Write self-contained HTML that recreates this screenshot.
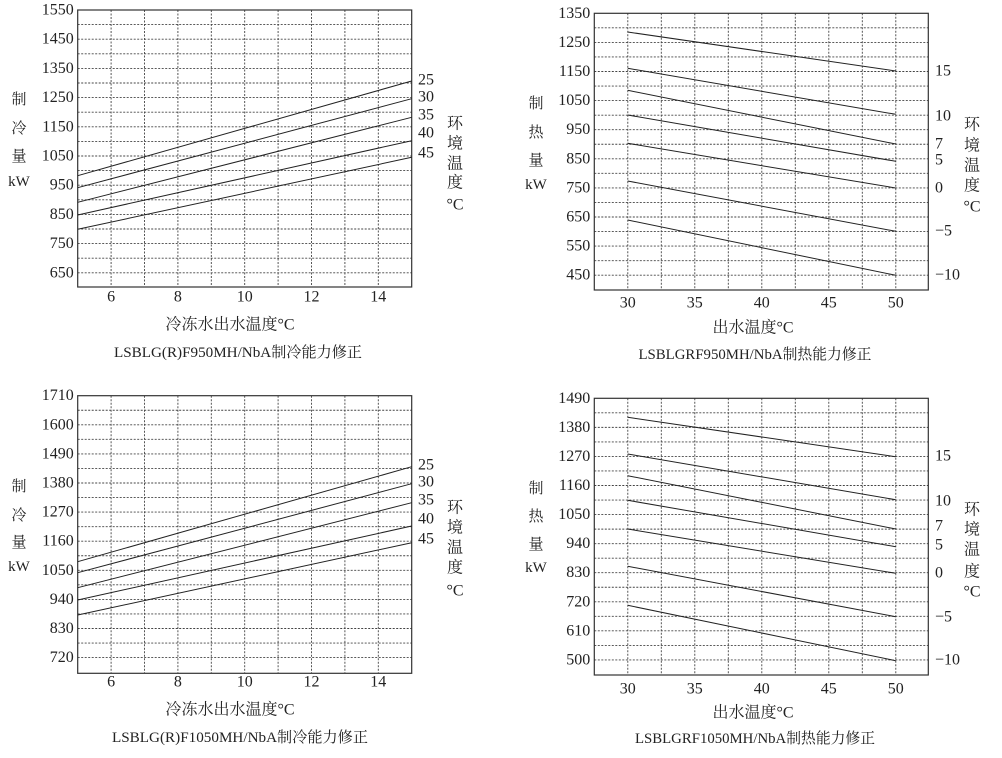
<!DOCTYPE html>
<html><head><meta charset="utf-8"><style>
html,body{margin:0;padding:0;background:#fff}
svg{display:block}
text{font-family:"Liberation Serif","Noto Serif CJK SC",serif;fill:#222}
</style></head><body>
<svg id="s" width="1002" height="758" viewBox="0 0 1002 758" xmlns="http://www.w3.org/2000/svg"></svg>
<script>
var s=document.getElementById('s'),h='';
function L(x1,y1,x2,y2,st){h+='<line x1="'+x1+'" y1="'+y1+'" x2="'+x2+'" y2="'+y2+'" '+st+'/>';}
function T(x,y,t,sz,anc){h+='<text x="'+x+'" y="'+y+'" font-size="'+(sz||15)+'" text-anchor="'+(anc||'middle')+'" dominant-baseline="central">'+t+'</text>';}
var dash='stroke="#444" stroke-width="0.9" stroke-dasharray="2,1.5"';
function chart(c){
  for(var i=0;;i++){var y=c.top+i*c.dy/2; if(y>c.bot-2)break; if(i>0)L(c.l,y,c.r,y,dash);}
  for(var x=c.l+c.dx;x<c.r-2;x+=c.dx)L(x,c.top,x,c.bot,dash);
  h+='<rect x="'+c.l+'" y="'+c.top+'" width="'+(c.r-c.l)+'" height="'+(c.bot-c.top)+'" fill="none" stroke="#333" stroke-width="1.2"/>';
  c.yl.forEach(function(t,i){T(c.l-4,c.top+i*c.dy,t,16,'end');});
  c.xl.forEach(function(p){T(p[0],c.xly,p[1],16);});
  c.lines.forEach(function(p){L(c.lx1,p[0],c.lx2,p[1],'stroke="#222" stroke-width="1"');});
  c.rl.forEach(function(p){T(c.rlx,p[1],p[0],16,'start');});
  c.left.forEach(function(p){T(c.lax,p[1],p[0],15);});
  c.right.forEach(function(p){T(c.rax,p[1],p[0],16);});
  T(c.xt[0],c.xt[1],c.xt[2],16);
  h+='<text x="'+c.cap[0]+'" y="'+c.cap[1]+'" font-size="15" text-anchor="middle" dominant-baseline="central" textLength="'+c.cap[3]+'" lengthAdjust="spacingAndGlyphs">'+c.cap[2]+'</text>';
}
var dxC=33.4, dxH=33.5;
function xlC(l){return [[6,'6'],[8,'8'],[10,'10'],[12,'12'],[14,'14']].map(function(a){return [l+(a[0]-5)*dxC,a[1]];});}
function xlH(){return [30,35,40,45,50].map(function(v){return [627.7+(v-30)*13.4,''+v];});}
chart({l:77.7,r:411.7,top:10,bot:287,dy:29.2,dx:dxC,
 yl:['1550','1450','1350','1250','1150','1050','950','850','750','650'],
 xl:xlC(77.7),xly:297,lx1:77.7,lx2:411.7,
 lines:[[175.7,81],[187.7,98.7],[202.3,117.3],[215,140.7],[229.3,157.3]],
 rl:[['25',80],['30',97],['35',115],['40',133],['45',153]],rlx:418,
 left:[['制',100],['冷',129],['量',157],['kW',182]],lax:19,
 right:[['环',124],['境',144],['温',164],['度',183],['°C',205]],rax:455,
 xt:[230,325,'冷冻水出水温度°C'],cap:[238,353,'LSBLG(R)F950MH/NbA制冷能力修正',248]});
chart({l:594.3,r:928.3,top:13.3,bot:290,dy:29.1,dx:dxH,
 yl:['1350','1250','1150','1050','950','850','750','650','550','450'],
 xl:xlH(),xly:303,lx1:627.7,lx2:895.7,
 lines:[[32,71],[68.3,114.3],[90.3,144],[115,161.3],[143.3,188],[181,231.3],[220,275.3]],
 rl:[['15',71],['10',116],['7',144],['5',160],['0',188],['−5',231],['−10',275]],rlx:935,
 left:[['制',104],['热',133],['量',161],['kW',185]],lax:536,
 right:[['环',125],['境',146],['温',166],['度',186],['°C',207]],rax:972,
 xt:[753,328,'出水温度°C'],cap:[755,355,'LSBLGRF950MH/NbA制热能力修正',233]});
chart({l:77.7,r:411.7,top:395.7,bot:673.3,dy:29.1,dx:dxC,
 yl:['1710','1600','1490','1380','1270','1160','1050','940','830','720'],
 xl:xlC(77.7),xly:682,lx1:77.7,lx2:411.7,
 lines:[[561.7,466.7],[572.7,483.7],[587.7,502.7],[600,526],[615,542.7]],
 rl:[['25',465],['30',482],['35',500],['40',519],['45',539]],rlx:418,
 left:[['制',487],['冷',516],['量',543],['kW',567]],lax:19,
 right:[['环',508],['境',528],['温',548],['度',568],['°C',591]],rax:455,
 xt:[230,710,'冷冻水出水温度°C'],cap:[240,738,'LSBLG(R)F1050MH/NbA制冷能力修正',256]});
chart({l:594.3,r:928.3,top:398.3,bot:675,dy:29.07,dx:dxH,
 yl:['1490','1380','1270','1160','1050','940','830','720','610','500'],
 xl:xlH(),xly:689,lx1:627.7,lx2:895.7,
 lines:[[417.3,456.7],[454,499.7],[475.7,529],[500.3,546.7],[529,573.3],[566.3,616.7],[605.3,660.7]],
 rl:[['15',456],['10',501],['7',526],['5',545],['0',573],['−5',617],['−10',660]],rlx:935,
 left:[['制',489],['热',517],['量',545],['kW',568]],lax:536,
 right:[['环',510],['境',530],['温',550],['度',572],['°C',592]],rax:972,
 xt:[753,713,'出水温度°C'],cap:[755,739,'LSBLGRF1050MH/NbA制热能力修正',240]});
s.innerHTML=h;
</script>
</body></html>
